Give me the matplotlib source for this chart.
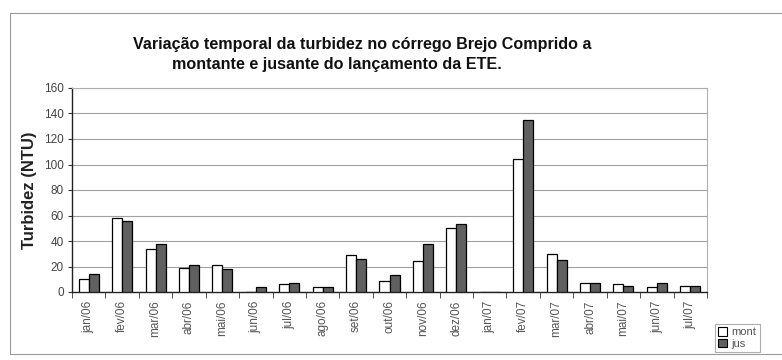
import matplotlib.pyplot as plt
import numpy as np
from matplotlib.patches import Patch, Rectangle

plt.rcParams['font.family'] = ['Liberation Sans', 'DejaVu Sans']

# monthly turbidity (NTU) upstream (mont) and downstream (jus) of the ETE outfall
meses = ['jan/06', 'fev/06', 'mar/06', 'abr/06', 'mai/06', 'jun/06', 'jul/06',
         'ago/06', 'set/06', 'out/06', 'nov/06', 'dez/06', 'jan/07', 'fev/07',
         'mar/07', 'abr/07', 'mai/07', 'jun/07', 'jul/07']
mont = [10, 58, 34, 18.5, 21, 0, 6, 4, 29, 9, 24, 50, 0, 104, 30, 7, 6, 4, 5]
jus = [14, 56, 38, 21, 18, 4, 7, 4, 26, 13, 38, 53, 0, 135, 25, 7, 5, 7, 5]

W, H = 782, 360
fig = plt.figure(figsize=(W / 100, H / 100), dpi=100)

# outer chart frame
fig.patches.append(Rectangle((10 / W, 6 / H), 1.0, 341 / H, transform=fig.transFigure,
                             fill=False, edgecolor='#9a9a9a', linewidth=0.8))

ax = fig.add_axes([72 / W, (H - 292) / H, (707 - 72) / W, (292 - 88) / H])

x = np.arange(len(meses))
w = 0.3
ax.bar(x - w / 2, mont, w, color='white', edgecolor='black', linewidth=0.9, zorder=3)
ax.bar(x + w / 2, jus, w, color='#606060', edgecolor='black', linewidth=0.9, zorder=3)

ax.set_xlim(-0.5, len(meses) - 0.5)
ax.set_ylim(0, 160)
ax.set_yticks(np.arange(0, 161, 20))
ax.yaxis.grid(True, color='#a0a0a0', linewidth=0.8, zorder=0)

ax.set_xticks(x)
ax.set_xticklabels(meses, rotation=90, fontsize=8.5, color='#555555')
ax.set_xticks(np.arange(-0.5, len(meses), 1), minor=True)
ax.tick_params(axis='x', which='major', length=0, pad=6)
ax.tick_params(axis='x', which='minor', length=4, color='#333333', direction='out')
ax.tick_params(axis='y', length=3, color='#333333', labelsize=8.5, labelcolor='#444444', pad=3)

for s in ['left', 'bottom']:
    ax.spines[s].set_color('#222222')
    ax.spines[s].set_linewidth(1.0)
for s in ['top', 'right']:
    ax.spines[s].set_color('#b0b0b0')
    ax.spines[s].set_linewidth(0.8)

ax.set_ylabel('Turbidez (NTU)', fontsize=12, fontweight='bold', color='#222222', labelpad=5)

fig.text(362 / W, 1 - 44 / H, 'Variação temporal da turbidez no córrego Brejo Comprido a',
         ha='center', va='center', fontsize=11.6, fontweight='bold', color='#111111')
fig.text(337 / W, 1 - 64 / H, 'montante e jusante do lançamento da ETE.',
         ha='center', va='center', fontsize=11.6, fontweight='bold', color='#111111')

handles = [Patch(facecolor='white', edgecolor='black', linewidth=0.8),
           Patch(facecolor='#606060', edgecolor='black', linewidth=0.8)]
leg = fig.legend(handles, ['mont', 'jus'], loc='upper left',
                 bbox_to_anchor=(715 / W, 1 - 324 / H), fontsize=8,
                 handlelength=0.8, handleheight=0.8, handletextpad=0.4,
                 labelspacing=0.1, borderpad=0.3, fancybox=False, borderaxespad=0)
leg.get_frame().set_edgecolor('#9a9a9a')
leg.get_frame().set_linewidth(0.8)
for t in leg.get_texts():
    t.set_color('#555555')

fig.savefig('out.png', dpi=100)
